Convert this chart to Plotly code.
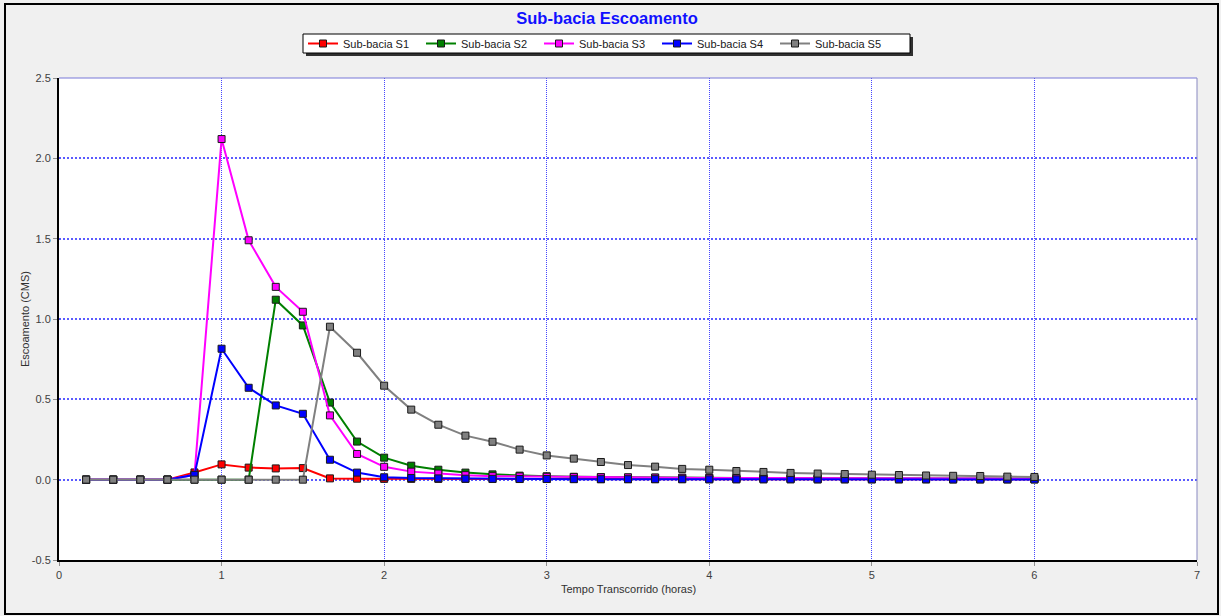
import plotly.graph_objects as go

# Elapsed time in minutes (10-minute steps)
tempo_min = [10, 20, 30, 40, 50, 60, 70, 80, 90, 100, 110, 120,
             130, 140, 150, 160, 170, 180, 190, 200, 210, 220, 230, 240,
             250, 260, 270, 280, 290, 300, 310, 320, 330, 340, 350, 360]

# Runoff per sub-basin (CMS)
s1 = [0, 0, 0, 0, 0.045, 0.095, 0.075, 0.070, 0.072, 0.008, 0.006, 0.005,
      0.005, 0.005, 0.005, 0.004, 0.004, 0.004, 0.004, 0.003, 0.003, 0.003, 0.003, 0.003,
      0.003, 0.003, 0.003, 0.002, 0.002, 0.002, 0.002, 0.002, 0.002, 0.002, 0.002, 0.002]
s2 = [0, 0, 0, 0, 0, 0, 0, 1.12, 0.96, 0.48, 0.237, 0.137,
      0.087, 0.062, 0.044, 0.033, 0.025, 0.021, 0.018, 0.016, 0.014, 0.013, 0.012, 0.011,
      0.010, 0.010, 0.009, 0.009, 0.008, 0.008, 0.008, 0.007, 0.007, 0.007, 0.006, 0.006]
s3 = [0, 0, 0, 0, 0.03, 2.12, 1.49, 1.20, 1.045, 0.40, 0.16, 0.08,
      0.05, 0.038, 0.028, 0.022, 0.020, 0.018, 0.016, 0.015, 0.014, 0.013, 0.012, 0.011,
      0.011, 0.010, 0.010, 0.009, 0.009, 0.008, 0.008, 0.008, 0.007, 0.007, 0.007, 0.006]
s4 = [0, 0, 0, 0, 0.03, 0.815, 0.572, 0.462, 0.41, 0.124, 0.044, 0.015,
      0.010, 0.008, 0.006, 0.005, 0.004, 0.004, 0.003, 0.003, 0.003, 0.003, 0.003, 0.002,
      0.002, 0.002, 0.002, 0.002, 0.002, 0.002, 0.002, 0.002, 0.001, 0.001, 0.001, 0.001]
s5 = [0, 0, 0, 0, 0, 0, 0, 0, 0, 0.952, 0.79, 0.585,
      0.436, 0.342, 0.274, 0.236, 0.187, 0.151, 0.131, 0.110, 0.091, 0.081, 0.067, 0.062,
      0.054, 0.048, 0.042, 0.038, 0.035, 0.031, 0.029, 0.026, 0.024, 0.023, 0.019, 0.017]

series_names = ["Sub-bacia S1", "Sub-bacia S2", "Sub-bacia S3", "Sub-bacia S4", "Sub-bacia S5"]
series_colors = ["#FF0000", "#008000", "#FF00FF", "#0000FF", "#808080"]

y_tickvals = [-0.5, 0.0, 0.5, 1.0, 1.5, 2.0, 2.5]
y_ticktext = ["-0.5", "0.0", "0.5", "1.0", "1.5", "2.0", "2.5"]
x_tickvals = [0, 1, 2, 3, 4, 5, 6, 7]

horas = [m / 60 for m in tempo_min]

FONT = "Arial, Liberation Sans, sans-serif"
W, H = 1221, 616
ML, MR, MT, MB = 59, 24, 78, 56
PW, PH = W - ML - MR, H - MT - MB


def px_x(p):
    return (p - ML) / PW


def px_y(p):
    return (H - MB - p) / PH


fig = go.Figure()
for name, color, vals in zip(series_names, series_colors, [s1, s2, s3, s4, s5]):
    fig.add_trace(go.Scatter(
        x=horas, y=vals, name=name, mode="lines+markers",
        line=dict(color=color, width=2),
        marker=dict(symbol="square", size=7, color=color,
                    line=dict(color="#1a1a1a", width=1)),
    ))

grid_color = "rgb(70,70,255)"
fig.update_xaxes(
    range=[0, 7], tickvals=x_tickvals, showgrid=True, gridcolor=grid_color,
    griddash="1px,1px", gridwidth=1, zeroline=False,
    showline=True, linecolor="black", linewidth=2,
    ticks="outside", ticklen=4, tickcolor="#909090",
    tickfont=dict(family=FONT, size=11, color="#404040"),
)
fig.update_yaxes(
    range=[-0.5, 2.5], tickvals=y_tickvals, ticktext=y_ticktext, showgrid=True,
    gridcolor="rgb(90,90,255)", griddash="2px,2px", gridwidth=1.5, zeroline=False,
    showline=True, linecolor="black", linewidth=2,
    ticks="outside", ticklen=4, tickcolor="#909090",
    tickfont=dict(family=FONT, size=11, color="#404040"),
)

# legend box geometry (pixels)
LEG_L, LEG_R, LEG_T, LEG_B = 303, 910, 34, 53

shapes = [
    # outer frame
    dict(type="rect", xref="paper", yref="paper",
         x0=px_x(5), x1=px_x(1218), y0=px_y(614), y1=px_y(4),
         line=dict(color="black", width=2), fillcolor="rgba(0,0,0,0)", layer="below"),
    # legend drop shadow
    dict(type="rect", xref="paper", yref="paper",
         x0=px_x(LEG_L + 3), x1=px_x(LEG_R + 3), y0=px_y(LEG_B + 3), y1=px_y(LEG_T + 3),
         line=dict(width=0), fillcolor="#303030", layer="above"),
    # legend box
    dict(type="rect", xref="paper", yref="paper",
         x0=px_x(LEG_L), x1=px_x(LEG_R), y0=px_y(LEG_B), y1=px_y(LEG_T),
         line=dict(color="black", width=1), fillcolor="white", layer="above"),
    # top and right plot edges
    dict(type="line", xref="paper", yref="paper", x0=0, x1=1, y0=1, y1=1,
         line=dict(color="#7878D8", width=1)),
    dict(type="line", xref="paper", yref="paper", x0=1, x1=1, y0=0, y1=1,
         line=dict(color="#8888C0", width=1)),
]

annotations = [
    dict(text="Escoamento (CMS)", xref="paper", yref="paper",
         x=px_x(25), y=0.5, textangle=-90, showarrow=False,
         xanchor="center", yanchor="middle",
         font=dict(family=FONT, size=11, color="#303030")),
    dict(text="Tempo Transcorrido (horas)", xref="paper", yref="paper",
         x=0.5, y=px_y(589), showarrow=False,
         xanchor="center", yanchor="middle",
         font=dict(family=FONT, size=11, color="#303030")),
]

fig.update_layout(
    width=W, height=H,
    margin=dict(l=ML, r=MR, t=MT, b=MB),
    paper_bgcolor="#F0F0F0", plot_bgcolor="white",
    title=dict(text="<b>Sub-bacia Escoamento</b>", x=px_x(607), xref="paper",
               xanchor="center", y=1 - 18 / H, yanchor="middle",
               font=dict(family=FONT, size=16.5, color="#1010FF")),
    legend=dict(orientation="h", x=px_x(LEG_L), xanchor="left",
                y=px_y((LEG_T + LEG_B) / 2), yanchor="middle",
                bgcolor="rgba(0,0,0,0)", borderwidth=0,
                font=dict(family=FONT, size=11, color="#202020"),
                itemwidth=30, entrywidth=73, entrywidthmode="pixels"),
    shapes=shapes, annotations=annotations,
    showlegend=True,
)

fig.write_html("out.html")
